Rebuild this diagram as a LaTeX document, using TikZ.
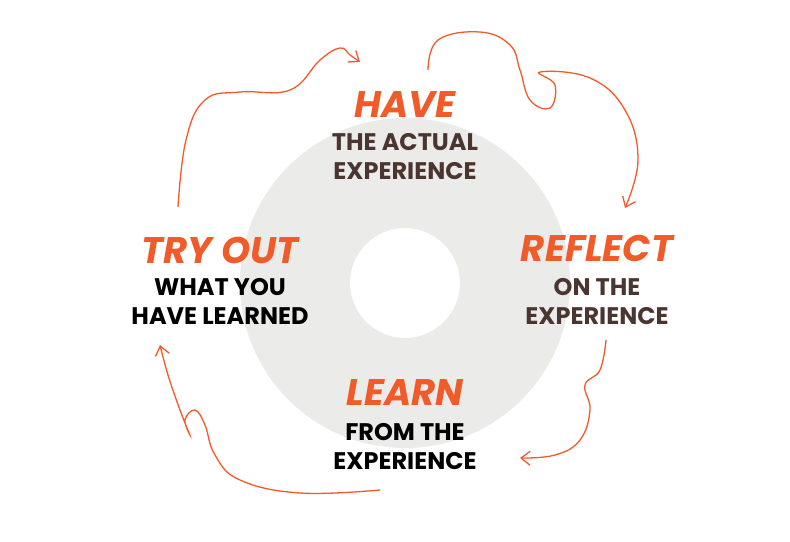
\documentclass[tikz,border=0pt]{standalone}
\usepackage{fontspec}
\setmainfont{Poppins}[BoldFont=* Bold,BoldItalicFont=* Bold Italic]
\usetikzlibrary{arrows.meta}
\definecolor{org}{HTML}{F15A29}
\definecolor{brn}{HTML}{4A3530}
\definecolor{gry}{HTML}{EBEBEA}
\tikzset{
 big/.style={text=org,font=\fontsize{37}{37}\selectfont\bfseries\itshape},
 sub/.style={font=\fontsize{24}{29}\selectfont\bfseries,align=center},
 arr/.style={org,line width=1.3pt,-{Straight Barb[length=9pt,width=14pt]}}
}
\begin{document}
\begin{tikzpicture}[x=1pt,y=-1pt]
\useasboundingbox (0,0) rectangle (790,541);
\fill[gry,even odd rule] (405,283) circle (165) (405,283) circle (55);
\node[big] (have) at (405,105) {HAVE};
\node[sub,text=brn] (haves) at (405,157) {THE ACTUAL\\EXPERIENCE};
\node[big] (refl) at (597,248) {REFLECT};
\node[sub,text=brn] (refls) at (597,302) {ON THE\\EXPERIENCE};
\node[big] (learn) at (405,393) {LEARN};
\node[sub] (learns) at (405,447) {FROM THE\\EXPERIENCE};
\node[big] (try) at (220,250) {TRY OUT};
\node[sub] (trys) at (220,301) {WHAT YOU\\HAVE LEARNED};
\draw[arr] plot[smooth,tension=0.7] coordinates {(178,207) (186,140) (205,100) (240,92) (290,90) (320,60) (340,48) (350,55) (360,62)};
\draw[arr] plot[smooth,tension=0.7] coordinates {(428,70) (438,40) (480,32) (510,45) (520,70) (530,100) (550,108) (555,85) (540,72) (590,78) (625,110) (638,160) (625,208)};
\draw[arr] plot[smooth,tension=0.7] coordinates {(606,340) (600,370) (585,385) (590,410) (580,440) (555,455) (520,458)};
\draw[arr] plot[smooth,tension=0.7] coordinates {(380,490) (300,493) (240,480) (215,455) (205,425) (195,410) (185,420) (190,435) (180,410) (168,375) (160,345)};
\end{tikzpicture}
\end{document}
